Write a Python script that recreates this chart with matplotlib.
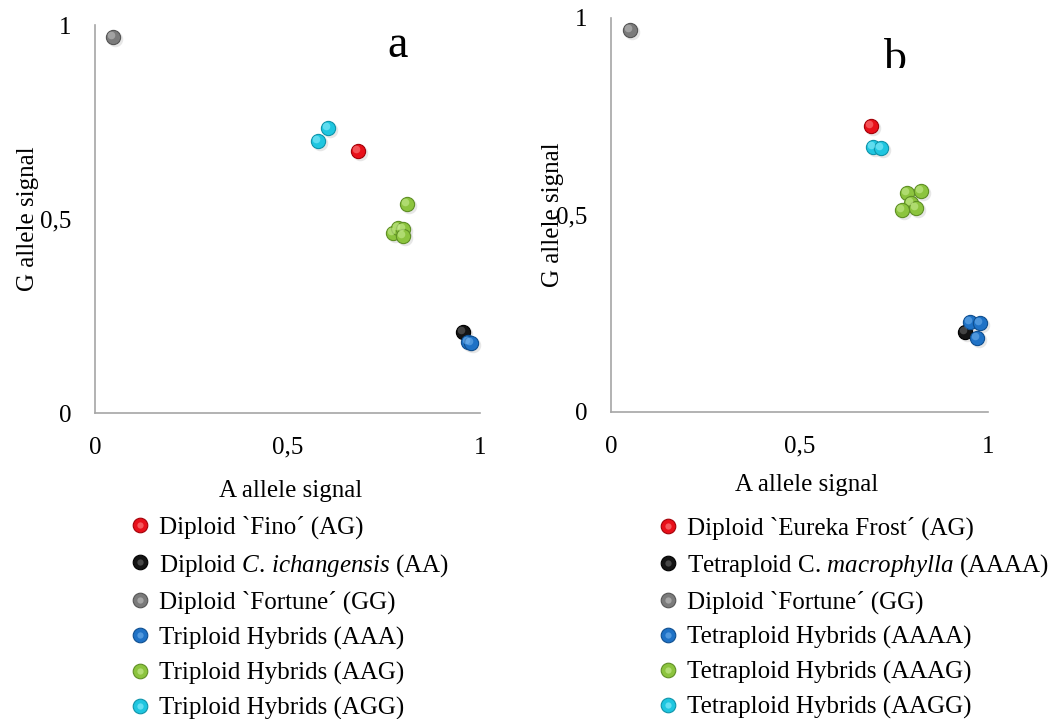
import matplotlib
matplotlib.use("Agg")
import matplotlib.pyplot as plt
from matplotlib.lines import Line2D
from matplotlib.transforms import offset_copy, Bbox, TransformedBbox

plt.rcParams["font.family"] = ["Liberation Serif", "DejaVu Serif"]
plt.rcParams["mathtext.fontset"] = "custom"
plt.rcParams["mathtext.rm"] = "Liberation Serif"
plt.rcParams["mathtext.it"] = "Liberation Serif:italic"

FS = 18

# ── data: panel a (triploid) ───────────────────────────────────────────
a_labels = ["Diploid `Fino\u00b4 (AG)",
            "Diploid $\\mathit{C.\\,ichangensis}$ (AA)",
            "Diploid `Fortune\u00b4 (GG)",
            "Triploid Hybrids (AAA)",
            "Triploid Hybrids (AAG)",
            "Triploid Hybrids (AGG)"]
a_x = [[0.682], [0.956], [0.047], [0.969, 0.977],
       [0.810, 0.775, 0.786, 0.800, 0.799], [0.604, 0.578]]
a_y = [[0.675], [0.209], [0.969], [0.183, 0.180],
       [0.539, 0.465, 0.478, 0.475, 0.455], [0.735, 0.701]]

# ── data: panel b (tetraploid) ─────────────────────────────────────────
b_labels = ["Diploid `Eureka Frost\u00b4 (AG)",
            "Tetraploid C. $\\mathit{macrophylla}$ (AAAA)",
            "Diploid `Fortune\u00b4 (GG)",
            "Tetraploid Hybrids (AAAA)",
            "Tetraploid Hybrids (AAAG)",
            "Tetraploid Hybrids (AAGG)"]
b_x = [[0.690], [0.939], [0.051], [0.952, 0.979, 0.971],
       [0.785, 0.822, 0.796, 0.772, 0.809], [0.695, 0.716]]
b_y = [[0.726], [0.203], [0.970], [0.228, 0.226, 0.188],
       [0.556, 0.561, 0.530, 0.513, 0.518], [0.673, 0.670]]

ticks = [0, 0.5, 1]
tick_labels = ["0", "0,5", "1"]

# base, edge, highlight
BALL = [("#e8101a", "#a30008", "#ff8a8a"),
        ("#141414", "#000000", "#6a6a6a"),
        ("#7b7b7b", "#555555", "#c4c4c4"),
        ("#1f72c6", "#0f4f90", "#74b4ef"),
        ("#8cc43e", "#5f8f25", "#cdee98"),
        ("#1fc6e0", "#0f94aa", "#94f0ff")]

fig = plt.figure(figsize=(10.52, 7.19), dpi=100, facecolor="white")
ax_a = fig.add_axes([95/1052, 1-413/719, 385/1052, 388/719])
ax_b = fig.add_axes([611/1052, 1-412/719, 377/1052, 394/719])


def balls(ax, xs, ys, cols):
    base, edge, hi = cols
    shadow_tr = offset_copy(ax.transData, fig=fig, x=2, y=-2, units="dots")
    hi_tr = offset_copy(ax.transData, fig=fig, x=-2, y=2, units="dots")
    ax.scatter(xs, ys, s=125, color="#bbbbbb", alpha=0.35, lw=0,
               transform=shadow_tr, zorder=2, clip_on=False)
    ax.scatter(xs, ys, s=105, color=base, edgecolors=edge, lw=0.8,
               zorder=3, clip_on=False)
    ax.scatter(xs, ys, s=30, color=hi, alpha=0.55, lw=0,
               transform=hi_tr, zorder=4, clip_on=False)


def handle(cols):
    base, edge, hi = cols
    return (Line2D([], [], ls="none", marker="o", ms=10.5, mfc=base, mec=edge, mew=0.8),
            Line2D([], [], ls="none", marker="o", ms=4.5, mfc=hi, mec="none", alpha=0.6))


def setup(ax, ylab_x, xlab_pos):
    ax.set_xlim(0, 1)
    ax.set_ylim(0, 1)
    for s in ["top", "right"]:
        ax.spines[s].set_visible(False)
    for s in ["left", "bottom"]:
        ax.spines[s].set_color("#a6a6a6")
        ax.spines[s].set_linewidth(1.2)
    ax.set_xticks(ticks)
    ax.set_xticklabels(tick_labels)
    ax.set_yticks(ticks)
    ax.set_yticklabels(tick_labels)
    ax.tick_params(length=0, labelsize=FS, colors="black")
    ax.tick_params(axis="x", pad=17)
    ax.tick_params(axis="y", pad=17)
    ax.set_xlabel("A allele signal", fontsize=FS)
    ax.set_ylabel("G allele signal", fontsize=FS)
    ax.yaxis.set_label_coords(ylab_x, 0.5)
    ax.xaxis.set_label_coords(*xlab_pos)


setup(ax_a, -0.145, (0.509, -0.172))
setup(ax_b, -0.125, (0.52, -0.157))

for i in range(len(a_labels)):
    balls(ax_a, a_x[i], a_y[i], BALL[i])
for i in range(len(b_labels)):
    balls(ax_b, b_x[i], b_y[i], BALL[i])

hs = [handle(c) for c in BALL]
fig.legend(hs, a_labels, loc="upper left", bbox_to_anchor=(127/1052, 1-516/719),
           frameon=False, fontsize=FS, handlelength=1.0, handletextpad=0.28,
           labelspacing=0.49, borderpad=0, borderaxespad=0)
fig.legend(hs, b_labels, loc="upper left", bbox_to_anchor=(655/1052, 1-517/719),
           frameon=False, fontsize=FS, handlelength=1.0, handletextpad=0.28,
           labelspacing=0.47, borderpad=0, borderaxespad=0)

fig.text(398/1052, 1-57/719, "a", fontsize=33, ha="center", va="baseline")
tb = fig.text(895/1052, 1-71/719, "b", fontsize=33, ha="center", va="baseline")
tb.set_clip_box(TransformedBbox(Bbox([[0, 1-68/719], [1, 1]]), fig.transFigure))
tb.set_clip_on(True)

fig.savefig("out.png", dpi=100, facecolor="white")
